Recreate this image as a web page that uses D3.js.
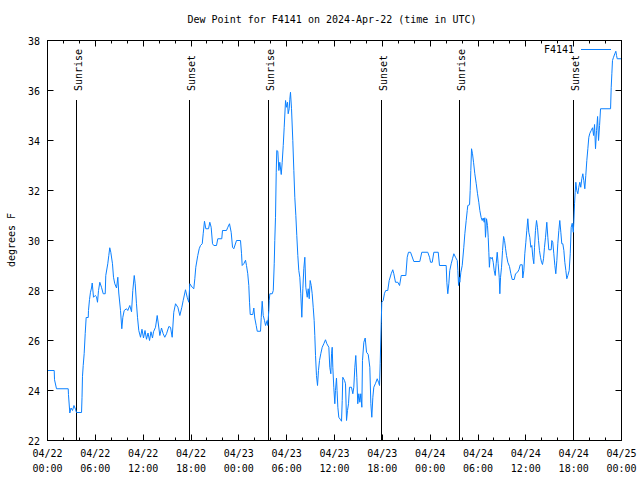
<!DOCTYPE html>
<html><head><meta charset="utf-8">
<script src="https://cdn.jsdelivr.net/npm/d3@7"></script>
<style>body{margin:0;background:#fff}svg{display:block}</style>
</head><body><svg id="c" width="640" height="480"></svg>
<script>
// hours since 2024-04-22 00:00 UTC
const hours = [0.00,0.84,0.88,1.13,2.60,2.63,2.80,2.95,3.14,3.32,3.51,3.64,4.27,4.33,4.39,4.48,4.60,4.73,4.85,5.11,5.14,5.27,5.39,5.52,5.61,5.77,5.98,6.15,6.27,6.40,6.56,6.77,6.99,7.24,7.31,7.56,7.69,7.81,7.94,8.15,8.28,8.44,8.66,8.82,8.94,9.16,9.32,9.45,9.62,9.91,10.07,10.32,10.54,10.70,10.88,11.00,11.16,11.29,11.45,11.67,
11.85,12.04,12.23,12.42,12.61,12.80,12.98,13.17,13.30,13.55,13.76,13.89,14.09,14.30,14.51,14.71,14.93,15.22,15.43,15.64,15.84,16.06,16.35,16.60,16.85,17.02,17.31,17.52,17.72,17.85,18.15,18.35,18.48,18.60,18.85,19.03,19.19,19.41,19.53,19.69,19.86,20.20,20.36,20.53,20.70,20.86,21.20,21.36,21.86,21.95,22.45,22.62,22.83,23.04,23.21,23.37,23.71,24.21,
24.34,24.42,24.62,24.84,24.96,25.12,25.25,25.34,25.43,25.75,25.88,26.00,26.18,26.31,26.72,26.81,26.93,27.06,27.22,27.35,27.56,27.63,27.76,27.81,27.89,28.19,28.32,28.44,28.51,28.60,28.69,28.76,28.89,29.02,29.14,29.32,29.44,29.57,29.69,29.86,29.98,30.11,30.19,30.32,30.39,30.48,30.61,30.77,30.90,31.02,31.15,31.27,31.40,31.52,31.65,31.77,31.90,32.03,32.15,32.28,32.40,32.58,32.70,32.83,32.95,33.08,33.20,33.33,33.45,33.53,33.62,33.74,33.87,33.99,34.12,34.28,34.46,34.66,34.87,35.04,35.29,35.41,35.54,35.63,35.71,35.79,35.91,36.04,36.12,
36.25,36.32,36.42,36.54,36.76,36.88,36.97,37.04,37.26,37.38,37.51,37.63,37.76,37.88,38.13,38.30,38.42,38.55,38.67,38.80,38.92,39.05,39.18,39.30,39.43,39.51,39.68,39.85,40.02,40.23,40.43,40.56,40.68,40.81,40.93,41.15,41.36,41.52,41.65,41.73,41.86,41.93,42.11,42.27,42.43,42.68,42.86,43.11,43.31,43.44,43.65,43.94,44.16,44.37,44.95,45.12,45.28,45.54,45.95,46.70,46.95,47.70,
47.92,48.05,48.26,48.46,49.01,49.17,50.01,50.09,50.21,50.34,50.46,50.64,50.80,50.97,51.18,51.40,51.47,51.56,51.65,51.72,51.85,52.02,52.22,52.35,52.52,52.65,52.72,52.94,53.02,53.10,53.19,53.31,53.44,53.60,53.78,53.94,54.10,54.23,54.40,54.53,54.65,54.78,54.86,54.94,55.07,55.19,55.28,55.36,55.43,55.52,55.66,55.78,55.91,56.03,56.16,56.28,56.41,56.53,56.66,56.74,56.83,56.95,57.08,57.21,57.33,57.46,57.58,57.74,57.95,58.12,58.29,58.54,58.71,58.96,59.13,59.30,59.55,
59.62,59.75,59.87,60.00,60.12,60.25,60.37,60.50,60.63,60.75,60.88,61.00,61.09,61.21,61.34,61.46,61.59,61.71,61.84,61.97,62.09,62.22,62.34,62.47,62.63,62.76,62.88,63.18,63.26,63.38,63.51,63.64,63.76,63.89,64.01,64.14,64.26,64.39,64.51,64.64,64.77,64.89,65.02,65.14,65.27,65.44,65.57,65.69,65.82,65.95,66.02,66.11,66.19,66.27,66.39,66.52,66.64,66.77,66.89,67.02,67.15,67.27,67.40,67.52,67.65,67.78,67.90,68.03,68.20,68.37,68.50,68.62,68.74,68.87,69.00,69.12,69.25,69.37,70.63,70.71,70.79,70.87,71.00,71.16,71.29,71.38,71.46,72.00];
const dewPoint = [24.8,24.8,24.43,24.07,24.07,23.84,23.1,23.3,23.2,23.4,23.25,23.12,23.12,23.73,24.57,25.0,25.48,26.28,26.92,26.92,27.2,27.64,27.93,28.1,28.3,27.73,27.8,27.75,27.53,28.0,28.33,28.13,27.87,27.87,28.6,29.07,29.4,29.71,29.53,29.07,28.53,28.27,28.1,28.53,27.9,27.2,26.47,26.93,27.2,27.27,27.2,27.4,27.15,28.0,28.6,28.27,27.47,26.93,26.4,26.13,
26.45,26.1,26.4,26.05,26.3,26.0,26.35,26.1,26.35,26.53,27.0,26.7,26.2,26.5,26.27,26.13,26.27,26.56,26.53,26.13,27.13,27.47,27.33,27.0,27.33,27.6,28.03,27.73,27.53,28.27,28.13,28.07,28.47,28.93,29.4,29.67,29.8,29.87,30.27,30.77,30.47,30.47,30.73,30.53,29.87,29.8,29.8,30.07,30.07,30.4,30.4,30.53,30.67,30.33,29.73,29.67,30.0,30.0,
29.47,29.0,29.07,29.21,29.0,28.67,28.2,27.53,27.04,27.04,27.3,26.9,26.6,26.37,26.37,26.93,27.57,27.0,26.8,26.6,26.8,26.6,27.2,27.6,27.87,27.87,28.0,29.07,30.0,30.93,32.73,33.6,33.57,32.8,33.13,32.64,33.13,33.8,34.53,35.6,35.33,35.53,35.07,35.27,35.63,35.93,35.27,34.0,32.8,31.73,31.0,30.2,29.4,28.8,28.53,27.87,26.93,28.07,28.87,29.33,28.13,27.73,28.07,27.67,28.4,28.2,27.87,27.33,26.8,26.2,25.4,24.6,24.2,24.8,25.2,25.47,25.73,25.87,26.03,25.87,25.73,24.93,24.67,25.47,25.73,24.93,24.13,23.47,24.0,
24.5,24.0,23.33,22.93,22.83,22.77,23.6,24.53,24.4,24.27,22.8,23.2,23.47,24.13,24.13,23.87,24.13,24.93,25.4,24.53,23.47,23.87,23.53,23.87,23.33,25.2,25.93,26.1,25.53,25.44,24.93,23.47,22.93,23.73,24.13,24.29,24.47,24.33,24.2,25.07,26.67,27.53,27.6,27.89,28.0,28.0,28.4,28.67,28.83,28.67,28.33,28.33,28.2,28.6,28.6,29.33,29.53,29.53,29.16,29.16,29.53,29.53,
29.33,29.13,29.13,29.53,29.53,29.0,29.0,28.33,27.87,28.27,28.8,29.07,29.27,29.47,29.33,29.2,28.8,28.2,28.53,28.33,28.73,29.0,29.73,30.27,30.8,31.2,31.4,31.43,32.0,32.8,33.67,33.47,33.13,32.67,32.27,31.87,31.53,31.2,30.91,30.8,30.9,30.73,30.91,30.13,30.87,30.6,30.13,29.53,28.93,29.33,29.27,29.33,29.13,28.8,28.6,29.07,29.53,29.07,28.53,27.87,28.53,28.93,29.6,30.16,30.0,29.67,29.4,29.13,28.96,28.67,28.44,28.44,28.67,28.73,28.83,29.03,29.03,
28.5,28.8,29.47,29.93,30.4,30.87,30.33,30.13,29.73,29.8,29.33,29.07,29.73,30.4,30.8,30.53,30.0,29.6,29.33,29.13,29.04,29.27,29.73,30.13,30.73,30.13,29.63,29.63,30.0,29.93,29.47,29.0,28.67,29.2,29.87,30.4,30.8,30.33,29.87,29.87,29.6,29.13,28.8,28.47,28.6,28.8,29.47,30.53,30.69,30.33,30.73,31.47,31.93,32.33,32.0,31.87,32.13,32.33,32.13,32.47,32.67,32.4,32.07,32.6,33.2,33.67,34.13,34.29,34.4,34.51,34.2,34.64,33.67,34.4,34.96,34.0,34.6,35.27,35.27,36.13,36.67,37.2,37.33,37.47,37.57,37.4,37.27,37.27];
const sunriseHours = [3.64, 27.76, 51.72];
const sunsetHours = [17.85, 41.90, 66.02];
const yTicks = [22,24,26,28,30,32,34,36,38];
const xMajorHours = [0,6,12,18,24,30,36,42,48,54,60,66,72];
const xTickDates = ["04/22","04/22","04/22","04/22","04/23","04/23","04/23","04/23","04/24","04/24","04/24","04/24","04/25"];
const xTickTimes = ["00:00","06:00","12:00","18:00","00:00","06:00","12:00","18:00","00:00","06:00","12:00","18:00","00:00"];
const xMinorHours = d3.range(0, 73, 2).filter(h => h % 6 !== 0);
const seriesName = "F4141";
const titleText = "Dew Point for F4141 on 2024-Apr-22 (time in UTC)";
const yLabel = "degrees F";

const FONT = "'DejaVu Sans Mono', 'Liberation Mono', monospace";
const svg = d3.select("#c").style("font-family", FONT).style("font-size", "10px");
const L = 47.5, R = 621.5, T = 40.5, B = 440.5;
const x = d3.scaleLinear().domain([0, 72]).range([L, R]);
const y = d3.scaleLinear().domain([22, 38]).range([B, T]);

svg.append("rect").attr("width", 640).attr("height", 480).attr("fill", "#fff");

// ticks (mirrored)
const tk = svg.append("g").attr("stroke", "#000").attr("stroke-width", 1);
yTicks.forEach(v => {
  const yy = Math.round(y(v) - 0.5) + 0.5;
  tk.append("line").attr("x1", L).attr("x2", L + 6).attr("y1", yy).attr("y2", yy);
  tk.append("line").attr("x1", R - 6).attr("x2", R).attr("y1", yy).attr("y2", yy);
});
xMajorHours.forEach(h => {
  const xx = Math.round(x(h) - 0.5) + 0.5;
  tk.append("line").attr("x1", xx).attr("x2", xx).attr("y1", B).attr("y2", B - 6);
  tk.append("line").attr("x1", xx).attr("x2", xx).attr("y1", T).attr("y2", T + 6);
});
xMinorHours.forEach(h => {
  const xx = Math.round(x(h) - 0.5) + 0.5;
  tk.append("line").attr("x1", xx).attr("x2", xx).attr("y1", B).attr("y2", B - 3);
  tk.append("line").attr("x1", xx).attr("x2", xx).attr("y1", T).attr("y2", T + 3);
});

// tick labels
yTicks.forEach(v => {
  svg.append("text").attr("x", 40).attr("y", y(v) + 4).attr("text-anchor", "end").text(v);
});
xMajorHours.forEach((h, i) => {
  svg.append("text").attr("x", x(h)).attr("y", 457).attr("text-anchor", "middle").text(xTickDates[i]);
  svg.append("text").attr("x", x(h)).attr("y", 472).attr("text-anchor", "middle").text(xTickTimes[i]);
});

// sunrise / sunset
const sun = sunriseHours.map(h => ({h, name: "Sunrise"})).concat(sunsetHours.map(h => ({h, name: "Sunset"})));
sun.forEach(s => {
  const xx = Math.round(x(s.h) - 0.5) + 0.5;
  svg.append("line").attr("x1", xx).attr("x2", xx).attr("y1", 100).attr("y2", B)
    .attr("stroke", "#000").attr("stroke-width", 1);
  svg.append("text").attr("transform", `translate(${xx + 5.5},91) rotate(-90)`)
    .attr("text-anchor", "start").text(s.name);
});

// data line
const data = hours.map((h, i) => ({h, v: dewPoint[i]}));
svg.append("path").datum(data)
  .attr("fill", "none").attr("stroke", "#0a80ff").attr("stroke-width", 1)
  .attr("d", d3.line().x(d => x(d.h)).y(d => y(d.v)));

// frame
svg.append("rect").attr("x", L).attr("y", T).attr("width", R - L).attr("height", B - T)
  .attr("fill", "none").attr("stroke", "#000").attr("stroke-width", 1);

// legend
svg.append("text").attr("x", 574).attr("y", 53).attr("text-anchor", "end").text(seriesName);
svg.append("line").attr("x1", 581).attr("x2", 611).attr("y1", 49.5).attr("y2", 49.5)
  .attr("stroke", "#0a80ff").attr("stroke-width", 1);

// title & axis label
svg.append("text").attr("x", 332).attr("y", 23).attr("text-anchor", "middle").text(titleText);
svg.append("text").attr("transform", "translate(15,240) rotate(-90)").attr("text-anchor", "middle").text(yLabel);
</script>
</body></html>
